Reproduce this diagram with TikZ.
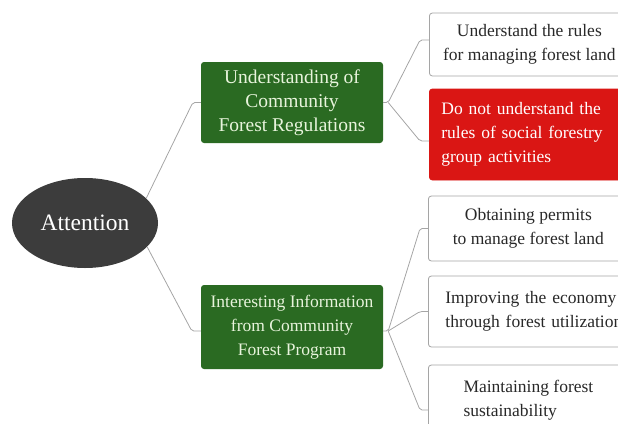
\documentclass[tikz,border=0pt]{standalone}
\usepackage{fontspec}
\setmainfont{Liberation Serif}
\usetikzlibrary{shapes.geometric}
\definecolor{forest}{RGB}{42,106,34}
\definecolor{alert}{RGB}{218,22,20}
\definecolor{core}{RGB}{60,60,60}
\definecolor{wire}{RGB}{165,165,165}
\definecolor{paleleaf}{RGB}{232,244,220}
\definecolor{ink}{RGB}{40,40,40}

\begin{document}
\begin{tikzpicture}[x=1pt, y=-1pt,
    font=\fontsize{17.5}{24}\selectfont,
    link/.style={draw=wire, line width=0.8pt, rounded corners=2pt},
    topic/.style={fill=forest, text=paleleaf, rounded corners=3pt, align=center,
        minimum width=182pt, inner sep=0pt},
    leaf/.style={draw=wire, line width=0.8pt, rounded corners=3pt, fill=white,
        text=ink, minimum width=200pt, inner xsep=12pt, inner ysep=0pt,
        align=center, anchor=west}]
    \useasboundingbox (0,0) rectangle (618,423);
    \path
    (85,223) node[ellipse, fill=core, text=white, inner sep=0pt,
        minimum width=146pt, minimum height=90pt,
        font=\fontsize{23.5}{26}\selectfont] (att) {Attention}
    (292,102.5) node[topic, minimum height=81pt,
        font=\fontsize{19.5}{24}\selectfont] (reg)
        {Understanding of\\Community\\Forest Regulations}
    (292,327) node[topic, minimum height=84pt] (info)
        {Interesting Information\\from Community\\Forest Program};
    \path
    (429,44.5) node[leaf, minimum height=63pt] (r1)
        {Understand the rules\\for managing forest land}
    (429,134.5) node[leaf, minimum height=91pt, fill=alert, draw=alert,
        text=white, align=left, text width=190pt] (r2)
        {Do not understand the\\rules of social forestry\\group activities}
    (428,228.5) node[leaf, minimum height=65pt] (i1)
        {Obtaining permits\\to manage forest land}
    (428,311.5) node[leaf, minimum height=71pt, align=left,
        inner xsep=17pt, text width=200pt] (i2)
        {Improving the economy\\through forest utilization}
    (428,400) node[leaf, minimum height=70pt, align=left] (i3)
        {Maintaining forest\\sustainability};
    \coordinate (regfork) at ([xshift=5pt]reg.east);
    \coordinate (infofork) at ([xshift=5pt, yshift=-4pt]info.east);
    \draw[link] (att.22) -- ([xshift=-8pt]reg.west) -- (reg.west);
    \draw[link] (att.-21) -- ([xshift=-9pt, yshift=-4pt]info.west)
        -- ([yshift=-4pt]info.west);
    \draw[link] (reg.east) -- (regfork)
        -- ([xshift=-9pt, yshift=4.5pt]r1.west) -- ([yshift=4.5pt]r1.west);
    \draw[link] (regfork)
        -- ([xshift=-9pt, yshift=-6.5pt]r2.west) -- ([yshift=-6.5pt]r2.west);
    \draw[link] ([yshift=-4pt]info.east) -- (infofork)
        -- ([xshift=-8pt]i1.west) -- (i1.west);
    \draw[link] (infofork) -- ([xshift=-8pt]i2.west) -- (i2.west);
    \draw[link] (infofork)
        -- ([xshift=-8pt, yshift=-10pt]i3.west) -- ([yshift=-10pt]i3.west);
\end{tikzpicture}
\end{document}
